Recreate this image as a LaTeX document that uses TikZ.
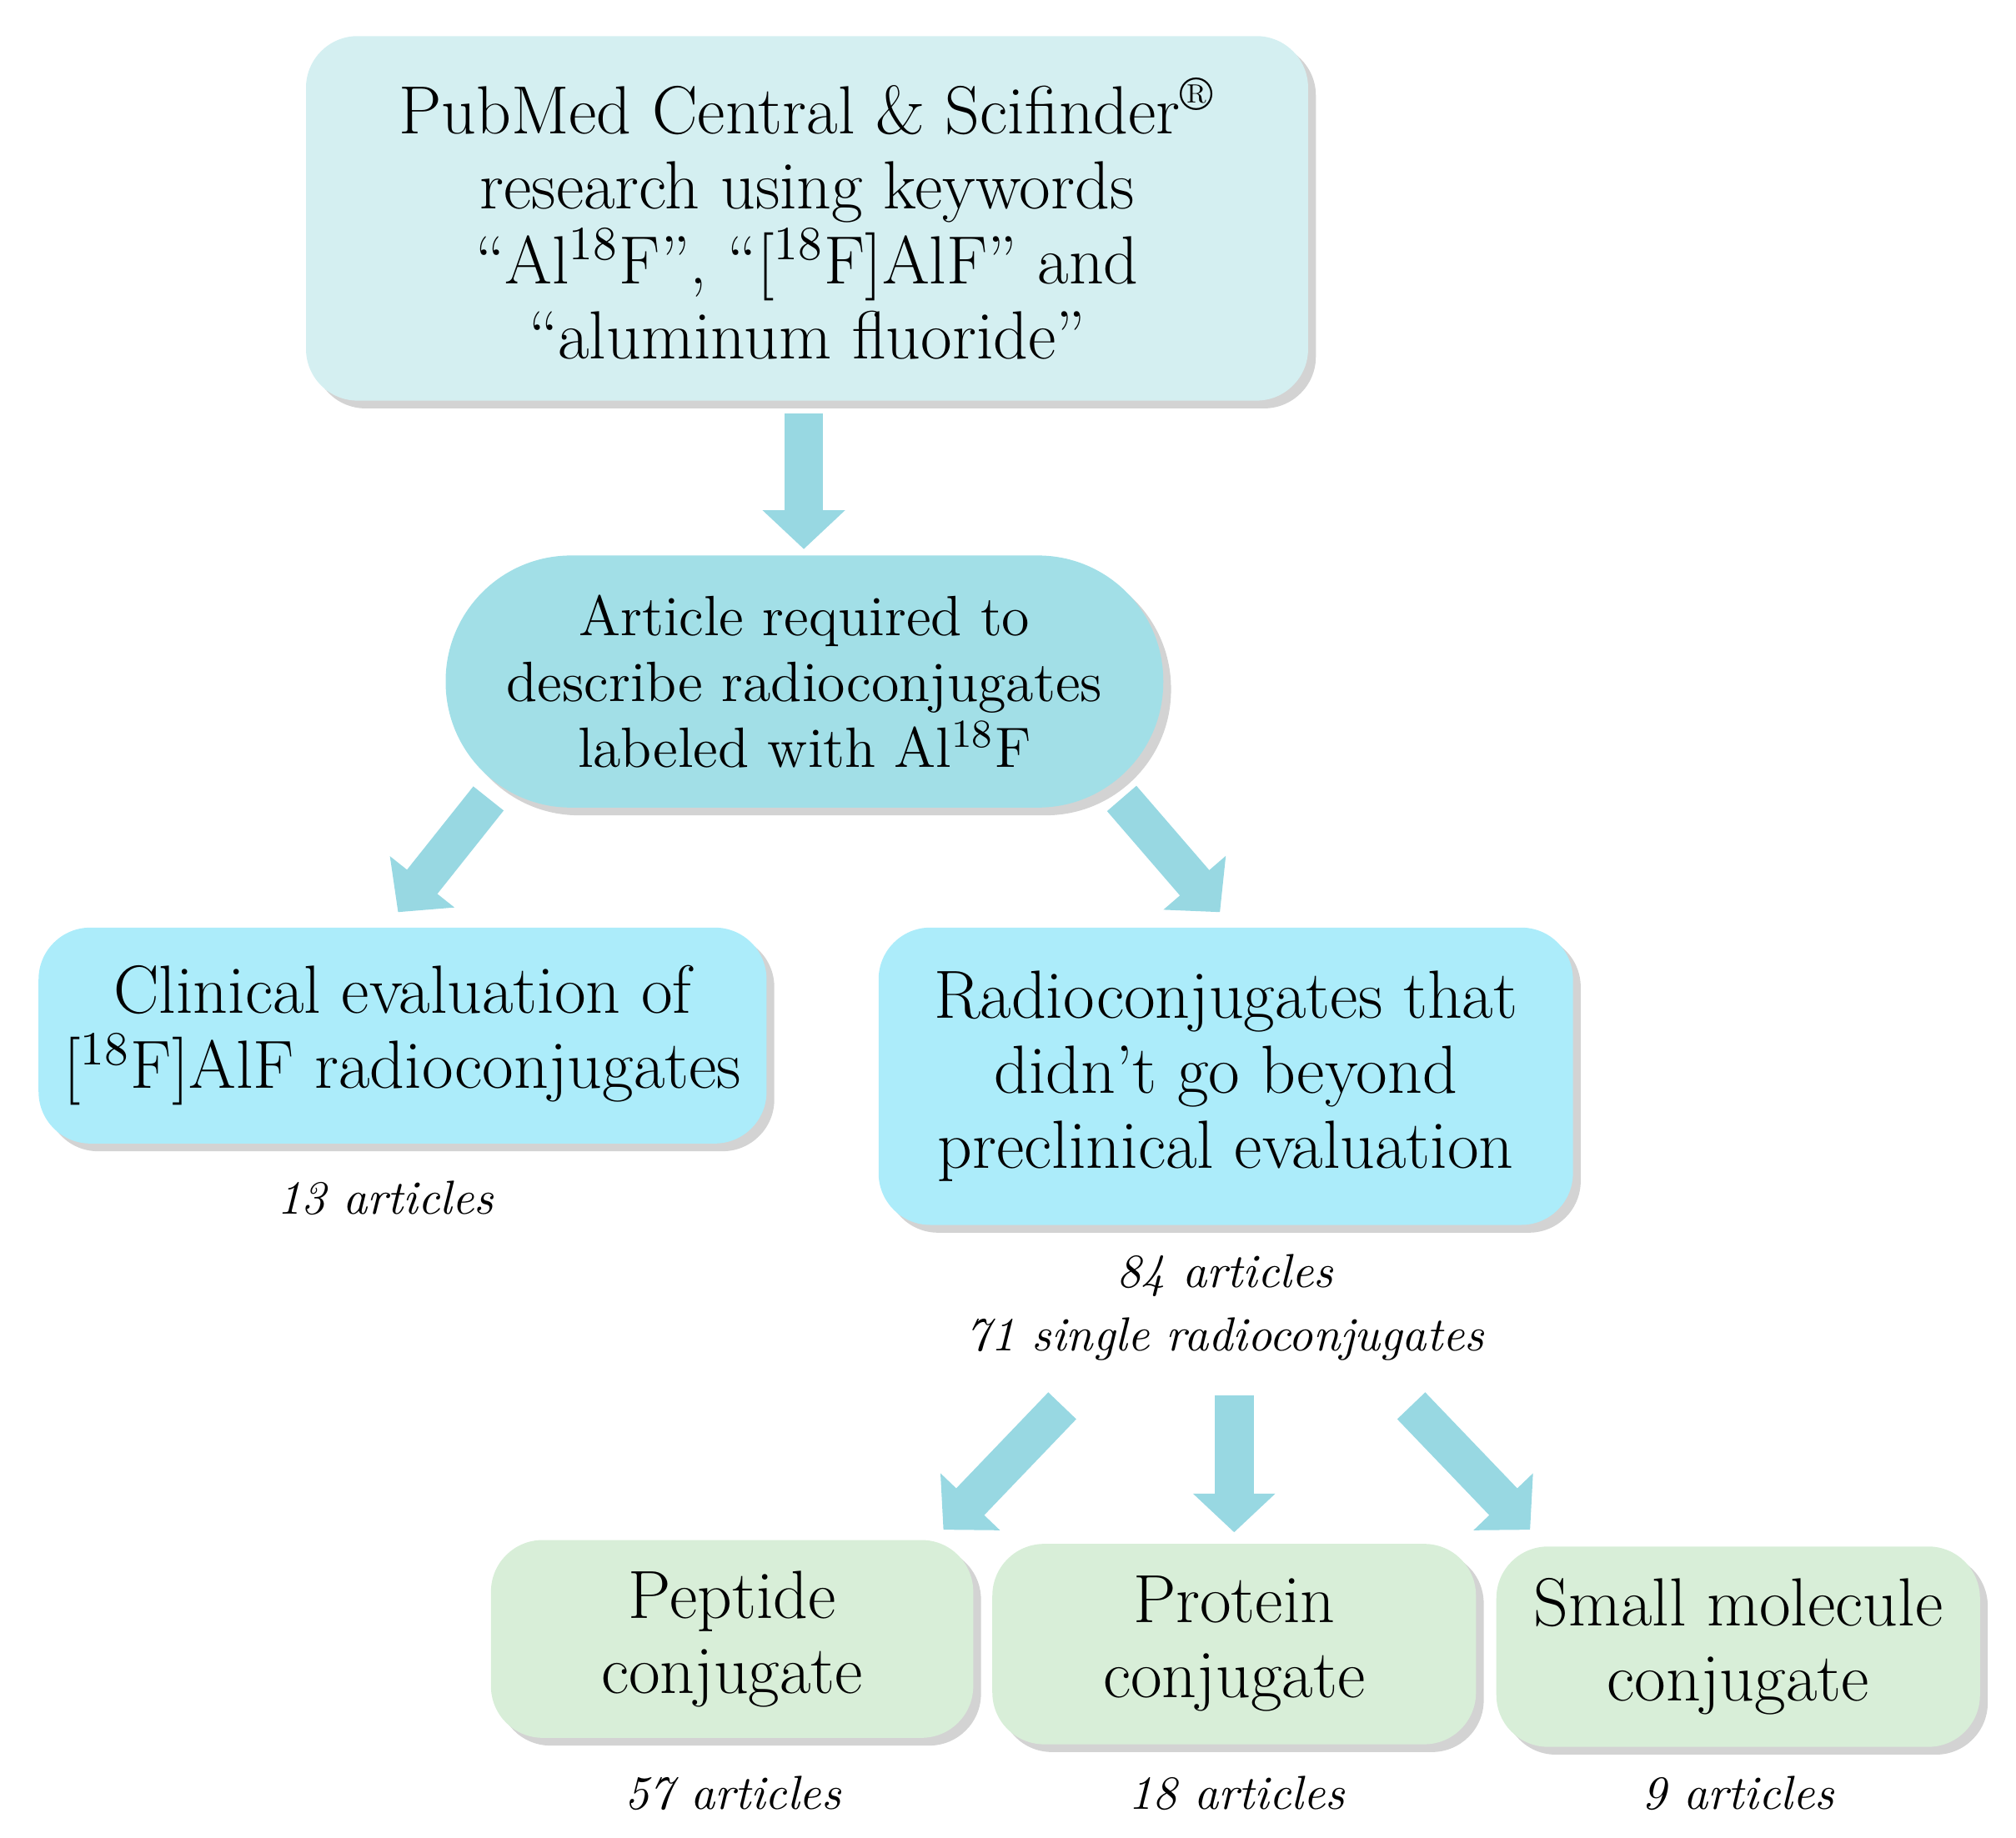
\documentclass[tikz,border=0pt]{standalone}
\usetikzlibrary{shadows,arrows.meta}
\definecolor{topc}{RGB}{212,239,241}
\definecolor{ovc}{RGB}{162,223,231}
\definecolor{bluec}{RGB}{172,236,250}
\definecolor{greenc}{RGB}{216,238,216}
\definecolor{arrc}{RGB}{152,216,226}
\begin{document}
\begin{tikzpicture}[x=0.01cm,y=-0.01cm,
 box/.style={rounded corners=0.4cm,drop shadow={shadow xshift=0.06cm,shadow yshift=-0.06cm,opacity=0.35},align=center,inner sep=0pt},
 big/.style={font=\fontsize{15}{16.5}\selectfont},
 lab/.style={font=\fontsize{10.5}{14}\selectfont\itshape,align=center},
 arr/.style={draw=arrc,line width=0.3cm,-{Triangle[width=0.62cm,length=0.3cm]}}]
\useasboundingbox (0,0) rectangle (1560,1422);
\node[box,fill=topc,minimum width=7.75cm,minimum height=2.82cm,big] (top) at (624.5,169) {PubMed Central \& Scifinder\textsuperscript{\textregistered}\\research using keywords\\``Al\textsuperscript{18}F'', ``[\textsuperscript{18}F]AlF'' and\\``aluminum fluoride''};
\node[box,fill=ovc,rounded corners=0.97cm,minimum width=5.55cm,minimum height=1.95cm,font=\fontsize{12.5}{14.5}\selectfont] (ov) at (622.5,527.5) {Article required to\\describe radioconjugates\\labeled with Al\textsuperscript{18}F};
\node[box,fill=bluec,minimum width=5.63cm,minimum height=1.67cm,big] (cl) at (311.5,801.5) {Clinical evaluation of\\{}[\textsuperscript{18}F]AlF radioconjugates};
\node[box,fill=bluec,minimum width=5.37cm,minimum height=2.3cm,big] (rc) at (948.5,833) {Radioconjugates that\\didn't go beyond\\preclinical evaluation};
\node[box,fill=greenc,minimum width=3.73cm,minimum height=1.53cm,big] (pe) at (566.5,1268.5) {Peptide\\conjugate};
\node[box,fill=greenc,minimum width=3.74cm,minimum height=1.55cm,big] (pr) at (955,1272.5) {Protein\\conjugate};
\node[box,fill=greenc,minimum width=3.74cm,minimum height=1.55cm,big] (sm) at (1345,1274.5) {Small molecule\\conjugate};
\node[lab] (l1) at (298,927) {13 articles};
\node[lab] (l2) at (948,1012) {84 articles\\71 single radioconjugates};
\node[lab] (l3) at (567,1388) {57 articles};
\node[lab] (l4) at (957,1388) {18 articles};
\node[lab] (l5) at (1345,1388) {9 articles};
\coordinate (a1) at (622,320); \coordinate (b1) at (622,425);
\coordinate (a2) at (378,618); \coordinate (b2) at (308,706);
\coordinate (a3) at (868,618); \coordinate (b3) at (944,706);
\coordinate (a4) at (822,1088); \coordinate (b4) at (730,1184);
\coordinate (a5) at (955,1080); \coordinate (b5) at (955,1186);
\coordinate (a6) at (1092,1088); \coordinate (b6) at (1184,1184);
\draw[arr] (a1)--(b1);
\draw[arr] (a2)--(b2);
\draw[arr] (a3)--(b3);
\draw[arr] (a4)--(b4);
\draw[arr] (a5)--(b5);
\draw[arr] (a6)--(b6);
\end{tikzpicture}
\end{document}
